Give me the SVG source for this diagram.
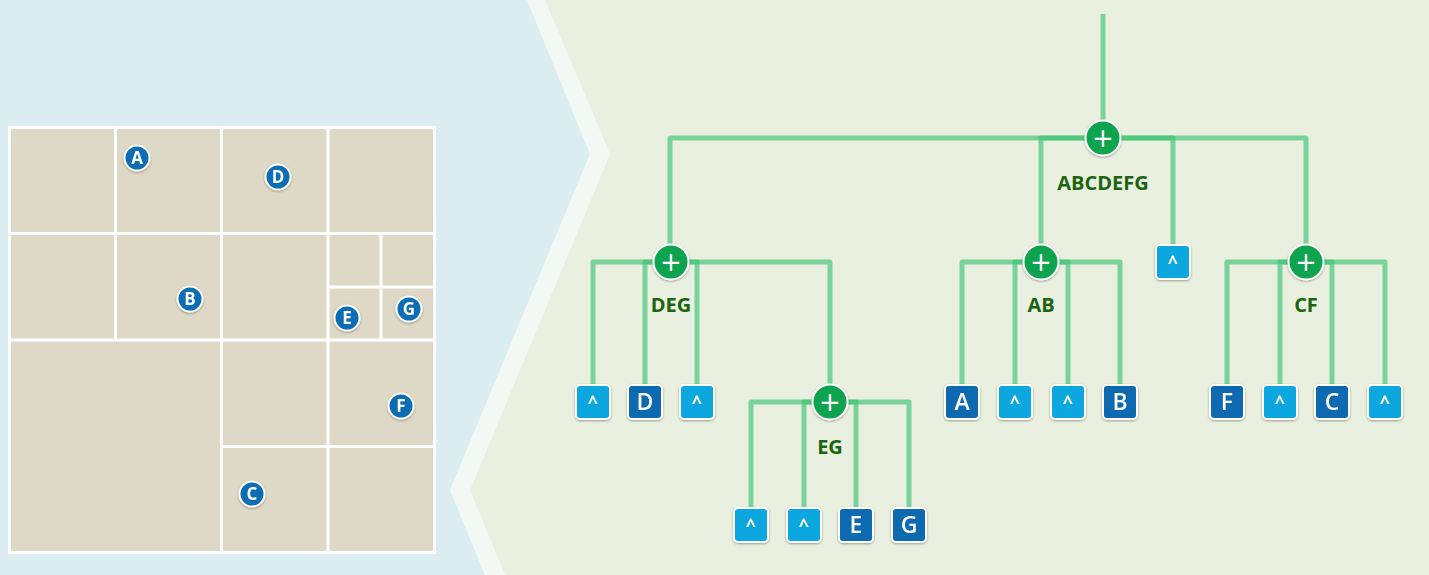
<svg xmlns="http://www.w3.org/2000/svg" width="1429" height="575" viewBox="0 0 1429 575">
<style>
.cell{fill:#ddd9c6}
.grid{stroke:#ffffff;stroke-width:3;fill:none}
.mark circle{fill:#0b6db4;stroke:#ffffff;stroke-width:2}
.mark text{font-family:"Open Sans","DejaVu Sans",sans-serif;font-weight:bold;font-size:17px;fill:#ffffff;text-anchor:middle}
.conn path{fill:none;stroke:#3cc273;stroke-opacity:0.65;stroke-width:5;stroke-linejoin:round}
.op circle{fill:#0fa34f;stroke:#ffffff;stroke-width:2}
.op text.plus{font-family:"DejaVu Sans",sans-serif;font-size:26px;fill:#ffffff;text-anchor:middle}
.op text.lbl{font-family:"Open Sans","DejaVu Sans",sans-serif;font-weight:bold;font-size:20px;fill:#1d6410;text-anchor:middle}
.leaf rect{stroke:#ffffff;stroke-width:2}
.nil rect{fill:#0ea7e0}
.let rect{fill:#0b69b0}
.leaf text{font-family:"Open Sans","DejaVu Sans",sans-serif;font-size:23px;font-weight:600;fill:#ffffff;text-anchor:middle}
.nil text{font-size:18px;font-weight:bold}
</style>
<defs>
<filter id="sh" x="-30%" y="-30%" width="160%" height="160%">
<feDropShadow dx="0" dy="1" stdDeviation="1" flood-color="#000000" flood-opacity="0.35"/>
</filter>
</defs>
<!-- backgrounds -->
<rect x="0" y="0" width="1429" height="575" fill="#e9f0df"/>
<polygon points="0,0 527,0 590,154 450,490 485,575 0,575" fill="#dcedf1"/>
<polygon points="527,0 545,0 610,154 470,490 505,575 485,575 450,490 590,154" fill="#f2f9f4"/>
<!-- left grid -->
<g id="grid">
<rect x="9.5" y="127.5" width="425" height="425" class="cell"/>
<rect x="9.5" y="127.5" width="425" height="425" class="grid"/>
<path class="grid" d="M115.5 127.5 V340 M221.5 127.5 V552.5 M328 127.5 V552.5 M9.5 233.5 H434.5 M9.5 340 H434.5 M221.5 446.5 H434.5 M381 233.5 V340 M328 287 H434.5"/>
</g>
<g id="markers" class="mark">
<g id="m-A" filter="url(#sh)"><circle cx="137" cy="158" r="12.5"/><text x="137" y="164">A</text></g>
<g id="m-D" filter="url(#sh)"><circle cx="278" cy="177" r="12.5"/><text x="278" y="183">D</text></g>
<g id="m-B" filter="url(#sh)"><circle cx="190" cy="299" r="12.5"/><text x="190" y="305">B</text></g>
<g id="m-E" filter="url(#sh)"><circle cx="347" cy="318" r="12.5"/><text x="347" y="324">E</text></g>
<g id="m-G" filter="url(#sh)"><circle cx="409" cy="309" r="12.5"/><text x="409" y="315">G</text></g>
<g id="m-F" filter="url(#sh)"><circle cx="401" cy="406" r="12.5"/><text x="401" y="412">F</text></g>
<g id="m-C" filter="url(#sh)"><circle cx="252" cy="494" r="12.5"/><text x="252" y="500">C</text></g>
</g>
<!-- connectors -->
<g id="connectors" class="conn">
<path d="M1103 14 V138"/>
<path d="M1103 138 H670 V262"/>
<path d="M1103 138 H1041 V262"/>
<path d="M1103 138 H1173 V262"/>
<path d="M1103 138 H1306 V262"/>
<path d="M671 262 H593 V402"/>
<path d="M671 262 H645 V402"/>
<path d="M671 262 H697 V402"/>
<path d="M671 262 H830 V402"/>
<path d="M830 402 H751 V525"/>
<path d="M830 402 H804 V525"/>
<path d="M830 402 H856 V525"/>
<path d="M830 402 H909 V525"/>
<path d="M1041 262 H962 V402"/>
<path d="M1041 262 H1015 V402"/>
<path d="M1041 262 H1068 V402"/>
<path d="M1041 262 H1120 V402"/>
<path d="M1306 262 H1227 V402"/>
<path d="M1306 262 H1280 V402"/>
<path d="M1306 262 H1332 V402"/>
<path d="M1306 262 H1385 V402"/>
</g>
<!-- operator nodes -->
<g id="n-ABCDEFG" class="op"><circle cx="1103" cy="138" r="17.5" filter="url(#sh)"/><text class="plus" x="1103" y="147">+</text><text class="lbl" x="1103" y="190">ABCDEFG</text></g>
<g id="n-DEG" class="op"><circle cx="671" cy="262" r="17.5" filter="url(#sh)"/><text class="plus" x="671" y="271">+</text><text class="lbl" x="671" y="312">DEG</text></g>
<g id="n-AB" class="op"><circle cx="1041" cy="262" r="17.5" filter="url(#sh)"/><text class="plus" x="1041" y="271">+</text><text class="lbl" x="1041" y="312">AB</text></g>
<g id="n-CF" class="op"><circle cx="1306" cy="262" r="17.5" filter="url(#sh)"/><text class="plus" x="1306" y="271">+</text><text class="lbl" x="1306" y="312">CF</text></g>
<g id="n-EG" class="op"><circle cx="830" cy="402" r="17.5" filter="url(#sh)"/><text class="plus" x="830" y="411">+</text><text class="lbl" x="830" y="454">EG</text></g>
<!-- leaves -->
<g id="l-root-nil" class="leaf nil" filter="url(#sh)"><rect x="1156" y="245" width="34" height="34" rx="4"/><text x="1173" y="269">^</text></g>
<g id="l-deg-1" class="leaf nil" filter="url(#sh)"><rect x="576" y="385" width="34" height="34" rx="4"/><text x="593" y="409">^</text></g>
<g id="l-D" class="leaf let" filter="url(#sh)"><rect x="628" y="385" width="34" height="34" rx="4"/><text x="645" y="410">D</text></g>
<g id="l-deg-3" class="leaf nil" filter="url(#sh)"><rect x="680" y="385" width="34" height="34" rx="4"/><text x="697" y="409">^</text></g>
<g id="l-eg-1" class="leaf nil" filter="url(#sh)"><rect x="734" y="508" width="34" height="34" rx="4"/><text x="751" y="532">^</text></g>
<g id="l-eg-2" class="leaf nil" filter="url(#sh)"><rect x="787" y="508" width="34" height="34" rx="4"/><text x="804" y="532">^</text></g>
<g id="l-E" class="leaf let" filter="url(#sh)"><rect x="839" y="508" width="34" height="34" rx="4"/><text x="856" y="533">E</text></g>
<g id="l-G" class="leaf let" filter="url(#sh)"><rect x="892" y="508" width="34" height="34" rx="4"/><text x="909" y="533">G</text></g>
<g id="l-A" class="leaf let" filter="url(#sh)"><rect x="945" y="385" width="34" height="34" rx="4"/><text x="962" y="410">A</text></g>
<g id="l-ab-2" class="leaf nil" filter="url(#sh)"><rect x="998" y="385" width="34" height="34" rx="4"/><text x="1015" y="409">^</text></g>
<g id="l-ab-3" class="leaf nil" filter="url(#sh)"><rect x="1051" y="385" width="34" height="34" rx="4"/><text x="1068" y="409">^</text></g>
<g id="l-B" class="leaf let" filter="url(#sh)"><rect x="1103" y="385" width="34" height="34" rx="4"/><text x="1120" y="410">B</text></g>
<g id="l-F" class="leaf let" filter="url(#sh)"><rect x="1210" y="385" width="34" height="34" rx="4"/><text x="1227" y="410">F</text></g>
<g id="l-cf-2" class="leaf nil" filter="url(#sh)"><rect x="1263" y="385" width="34" height="34" rx="4"/><text x="1280" y="409">^</text></g>
<g id="l-C" class="leaf let" filter="url(#sh)"><rect x="1315" y="385" width="34" height="34" rx="4"/><text x="1332" y="410">C</text></g>
<g id="l-cf-4" class="leaf nil" filter="url(#sh)"><rect x="1368" y="385" width="34" height="34" rx="4"/><text x="1385" y="409">^</text></g>
</svg>
